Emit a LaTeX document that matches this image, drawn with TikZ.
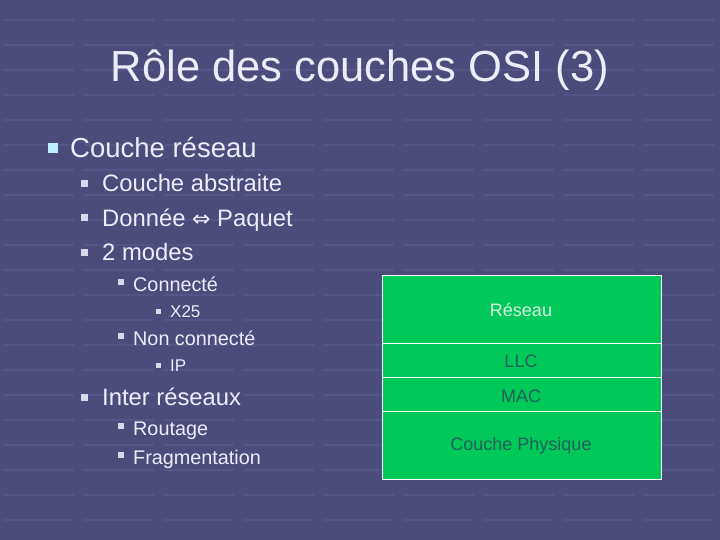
\documentclass[tikz,border=0pt]{standalone}
\usepackage{fontspec}
\setmainfont{Liberation Sans}
\newfontfamily\dejavu{DejaVu Sans}
\begin{document}
\begin{tikzpicture}[x=1pt,y=-1pt,
  txt/.style={anchor=base west,text=textc,inner sep=0pt},
  bul/.style={fill=bulc,inner sep=0pt,minimum size=#1},
  layer/.style={draw=white,line width=0.8pt,fill=boxgreen},
  lab/.style={text=labc,font=\fontsize{18}{21}\selectfont}]
\definecolor{bgc}{HTML}{4B4B7C}
\definecolor{gridc}{HTML}{55558A}
\definecolor{textc}{HTML}{EDEDFA}
\definecolor{bulc}{HTML}{D8D8E8}
\definecolor{bul1}{HTML}{BFEFFF}
\definecolor{boxgreen}{HTML}{00C95A}
\definecolor{labc}{HTML}{23605A}
\useasboundingbox (0,0) rectangle (720,540);
\fill[bgc] (0,0) rectangle (720,540);
\foreach \y in {20,45,...,540}
  \foreach \x in {0,80,...,720}
    \draw[gridc,line width=1.5pt] (\x+4,\y) -- (\x+74,\y);
\node[text=textc,font=\fontsize{43.5}{50}\selectfont] (title) at (360,70) {Rôle des couches OSI (3)};
\node[bul=10pt,fill=bul1] (b1) at (53,148) {};
\node[txt,font=\fontsize{27.5}{32}\selectfont] (t1) at (70,158) {Couche réseau};
\foreach \n/\y/\t in {a/184/Couche abstraite,b/218/{Donnée {\dejavu\fontsize{22}{24}\selectfont ⇔} Paquet},c/252/2 modes,d/397/Inter réseaux}{
  \node[bul=7pt] (b\n) at (84,\y) {};
  \node[txt,font=\fontsize{23.8}{28}\selectfont] (t\n) at (102,\y+8) {\t};}
\foreach \n/\y/\t in {e/284/Connecté,f/338/Non connecté,g/428/Routage,h/457/Fragmentation}{
  \node[bul=6pt] (b\n) at (121,\y-2) {};
  \node[txt,font=\fontsize{19.8}{24}\selectfont] (t\n) at (133,\y+7) {\t};}
\foreach \n/\y/\t in {i/311/X25,j/365/IP}{
  \node[bul=5pt] (b\n) at (158,\y) {};
  \node[txt,font=\fontsize{17}{20}\selectfont] (t\n) at (170,\y+6) {\t};}
\draw[layer] (382,275) rectangle (661,343);
\draw[layer] (382,343) rectangle (661,377);
\draw[layer] (382,377) rectangle (661,411);
\draw[layer] (382,411) rectangle (661,479);
\node[lab,text=textc!90!green] (r) at (521,310) {Réseau};
\node[lab] (l) at (521,361) {LLC};
\node[lab] (m) at (521,396) {MAC};
\node[lab] (p) at (521,446) {Couche Physique};
\end{tikzpicture}
\end{document}
